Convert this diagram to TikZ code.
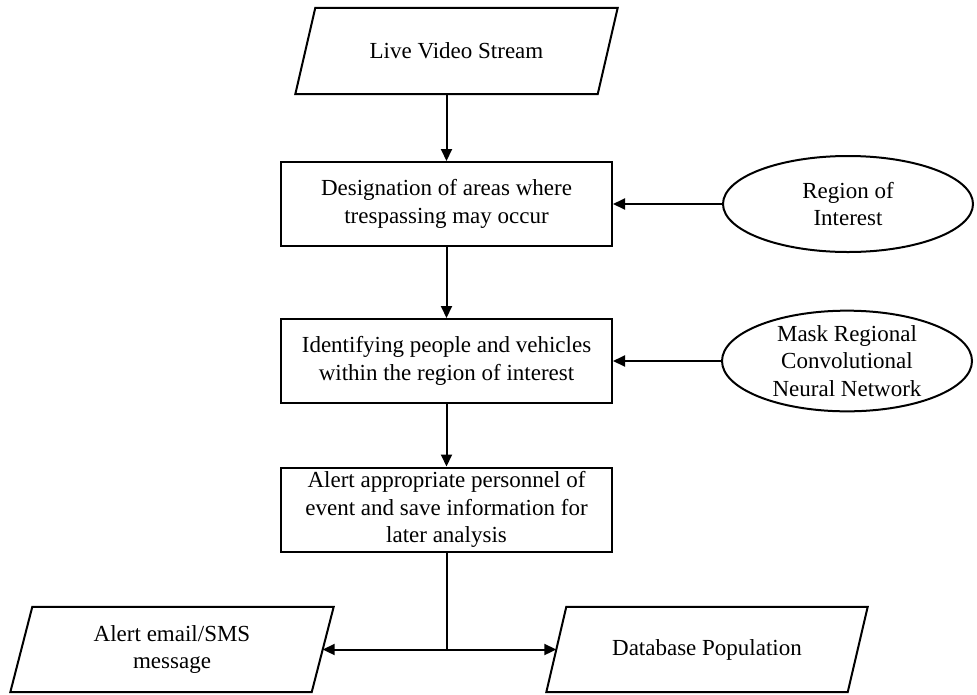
\documentclass[tikz,border=0pt]{standalone}
\usepackage{fontspec}
\setmainfont{Liberation Serif}
\usetikzlibrary{arrows.meta,shapes.geometric}
\tikzset{
  every node/.style={font=\fontsize{23}{27.5}\selectfont},
  box/.style={draw, line width=2pt, minimum width=331pt, minimum height=84pt, inner sep=0pt, align=center},
  parabody/.style={draw=none, minimum width=302pt, minimum height=86pt, inner sep=0pt, align=center},
  parashape/.style={line width=2pt, line join=miter},
  oval/.style={draw, ellipse, line width=2pt, minimum width=250pt, minimum height=96pt, inner sep=0pt, align=center},
  conn/.style={line width=2pt, -{Triangle[length=12pt,width=11pt]}},
  plainconn/.style={line width=2pt},
  dconn/.style={line width=2pt, {Triangle[length=12pt,width=11pt]}-{Triangle[length=12pt,width=11pt]}},
}
\begin{document}
\begin{tikzpicture}[x=1pt,y=-1pt]
\useasboundingbox (0,0) rectangle (977,694);
% top input
\node[parabody] (src) at (456.5,51) {Live Video Stream};
\draw[parashape] ([xshift=10pt]src.north west) -- ([xshift=10pt]src.north east)
  -- ([xshift=-10pt]src.south east) -- ([xshift=-10pt]src.south west) -- cycle;
% process boxes
\node[box] (b1) at (446.5,204) {Designation of areas where\\trespassing may occur};
\node[box] (b2) at (446.5,361) {Identifying people and vehicles\\within the region of interest};
\node[box] (b3) at (446.5,509.5) {Alert appropriate personnel of\\event and save information for\\later analysis};
% ellipses
\node[oval] (roi) at (848,204) {Region of\\Interest};
\node[oval, minimum height=100pt] (mrc) at (847,361) {Mask Regional\\Convolutional\\Neural Network};
% outputs
\node[parabody, minimum width=301pt, minimum height=85pt] (mail) at (172,649.5) {Alert email/SMS\\message};
\draw[parashape] ([xshift=11pt]mail.north west) -- ([xshift=11pt]mail.north east)
  -- ([xshift=-11pt]mail.south east) -- ([xshift=-11pt]mail.south west) -- cycle;
\node[parabody, minimum width=301pt, minimum height=85pt] (db) at (707,649.5) {Database Population};
\draw[parashape] ([xshift=10pt]db.north west) -- ([xshift=10pt]db.north east)
  -- ([xshift=-10pt]db.south east) -- ([xshift=-10pt]db.south west) -- cycle;
% connectors
\draw[conn] (src.south -| b1.north) -- (b1.north);
\draw[conn] (b1) -- (b2);
\draw[conn] (b2) -- (b3);
\draw[conn] (roi.west) -- (b1.east);
\draw[conn] (mrc.west) -- (b2.east);
\coordinate (split) at (b3.south |- mail.east);
\draw[plainconn] (b3.south) -- (split);
\draw[dconn] (mail.east) -- (db.west);
\end{tikzpicture}
\end{document}
